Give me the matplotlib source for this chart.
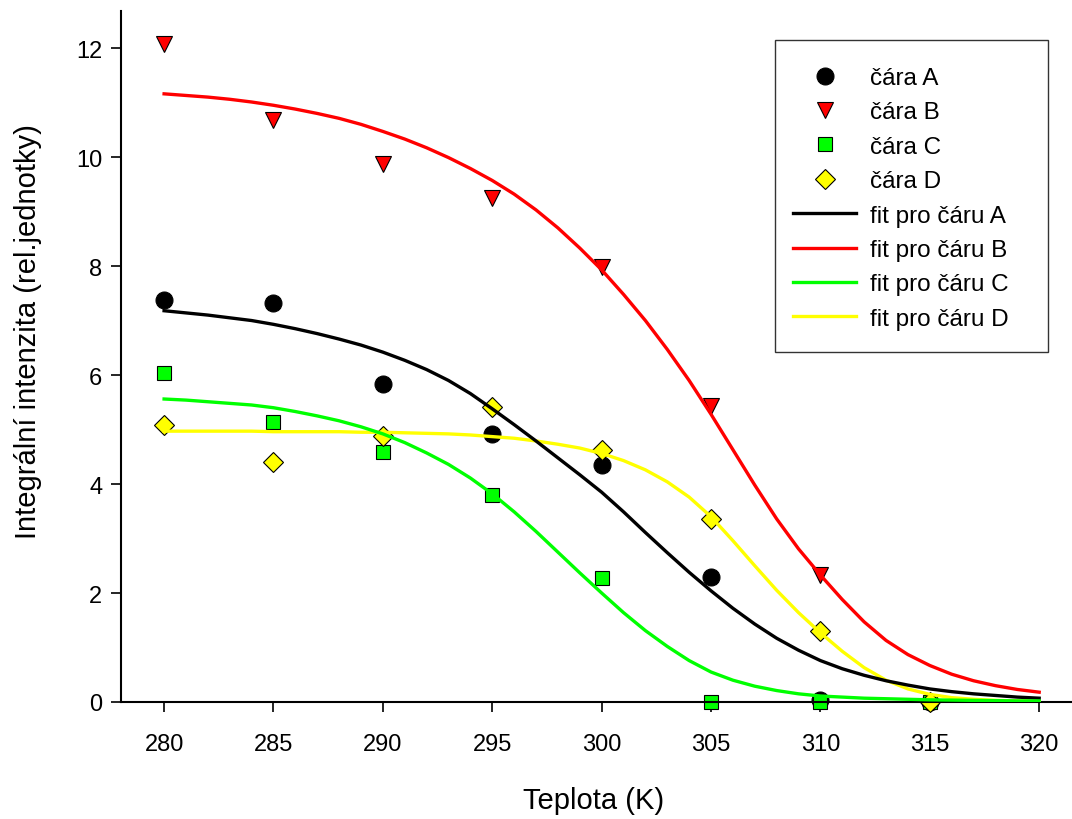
import numpy as np
import matplotlib
matplotlib.use("Agg")
import matplotlib.pyplot as plt
from matplotlib.patches import Rectangle

plt.rcParams['font.family'] = ['Liberation Sans', 'DejaVu Sans']

# ==========================================
# measured points
# ==========================================
temps = [280, 285, 290, 295, 300, 305, 310, 315]
temps_b = [280, 285, 290, 295, 300, 305, 310]

line_a = [7.38, 7.32, 5.83, 4.92, 4.34, 2.29, 0.04, 0.0]
line_b = [12.08, 10.68, 9.88, 9.24, 7.98, 5.43, 2.33]
line_c = [6.03, 5.13, 4.58, 3.79, 2.27, 0.0, 0.0, 0.0]
line_d = [5.09, 4.41, 4.89, 5.41, 4.62, 3.36, 1.30, 0.0]

# ==========================================
# fit curves, read off every 1 K
# ==========================================
fit_t = np.arange(280, 321)

fit_a = [7.18, 7.14, 7.10, 7.05, 7.00, 6.93, 6.85, 6.76, 6.66, 6.55,
         6.42, 6.27, 6.10, 5.90, 5.66, 5.38, 5.09, 4.79, 4.48, 4.17,
         3.85, 3.49, 3.11, 2.74, 2.38, 2.04, 1.72, 1.43, 1.17, 0.95,
         0.76, 0.61, 0.49, 0.39, 0.31, 0.24, 0.19, 0.15, 0.12, 0.09, 0.07]
fit_b = [11.16, 11.13, 11.10, 11.06, 11.01, 10.95, 10.88, 10.80, 10.71, 10.60,
         10.47, 10.33, 10.17, 9.99, 9.79, 9.57, 9.32, 9.03, 8.70, 8.33,
         7.93, 7.48, 7.00, 6.47, 5.90, 5.28, 4.63, 3.98, 3.36, 2.81,
         2.33, 1.88, 1.47, 1.13, 0.87, 0.67, 0.51, 0.39, 0.30, 0.23, 0.18]
fit_c = [5.56, 5.54, 5.51, 5.48, 5.45, 5.40, 5.33, 5.25, 5.16, 5.05,
         4.92, 4.76, 4.57, 4.36, 4.11, 3.82, 3.49, 3.13, 2.75, 2.37,
         2.00, 1.64, 1.31, 1.02, 0.76, 0.55, 0.40, 0.29, 0.21, 0.15,
         0.11, 0.09, 0.07, 0.06, 0.05, 0.04, 0.035, 0.03, 0.025, 0.02, 0.02]
fit_d = [4.97, 4.97, 4.97, 4.97, 4.97, 4.96, 4.96, 4.96, 4.96, 4.95,
         4.95, 4.94, 4.93, 4.92, 4.90, 4.87, 4.84, 4.79, 4.73, 4.66,
         4.56, 4.43, 4.26, 4.04, 3.76, 3.40, 2.96, 2.50, 2.05, 1.64,
         1.27, 0.93, 0.63, 0.40, 0.24, 0.14, 0.08, 0.05, 0.03, 0.02, 0.01]

x_ticks = [280, 285, 290, 295, 300, 305, 310, 315, 320]
y_ticks = [0, 2, 4, 6, 8, 10, 12]

W, H = 1072, 820
fig = plt.figure(figsize=(W / 100, H / 100), dpi=100)
ax = fig.add_axes([121 / W, (H - 703) / H, (W - 121) / W, (703 - 12) / H])

mk = dict(linestyle='none', markeredgecolor='black', markeredgewidth=0.8,
          clip_on=False, zorder=2)
ax.plot(temps, line_a, marker='o', ms=12.2, color='black', label='čára A', **mk)
ax.plot(temps_b, line_b, marker='v', ms=12.2, color='#ff0000', label='čára B', **mk)
ax.plot(temps, line_c, marker='s', ms=10, color='#00ff00', label='čára C', **mk)
ax.plot(temps, line_d, marker='D', ms=9.7, color='#ffff00', label='čára D', **mk)

lw = 2.4
ax.plot(fit_t, fit_a, color='black', lw=lw, label='fit pro čáru A', zorder=3.1)
ax.plot(fit_t, fit_b, color='#ff0000', lw=lw, label='fit pro čáru B', zorder=3.2)
ax.plot(fit_t, fit_c, color='#00ff00', lw=lw, label='fit pro čáru C', zorder=3.3)
ax.plot(fit_t, fit_d, color='#ffff00', lw=lw, label='fit pro čáru D', zorder=3.0)

ax.set_xlim(278.03, 321.5)
ax.set_ylim(0, 12.68)
ax.set_xticks(x_ticks)
ax.set_yticks(y_ticks)
ax.tick_params(axis='both', direction='out', length=7.5, width=1.2,
               labelsize=17, color='black')
ax.tick_params(axis='x', pad=14.5)
ax.tick_params(axis='y', pad=6)
for side in ['top', 'right']:
  ax.spines[side].set_visible(False)
for side in ['left', 'bottom']:
  ax.spines[side].set_linewidth(1.5)

ax.set_xlabel('Teplota (K)', fontsize=21)
ax.set_ylabel('Integrální intenzita (rel.jednotky)', fontsize=21)
ax.xaxis.set_label_coords(0.497, -0.122)
ax.yaxis.set_label_coords(-0.083, 0.537)

# legend without its own frame, box drawn separately
leg = ax.legend(loc='upper left', bbox_to_anchor=(793 / W, 1 - 68 / H),
                bbox_transform=fig.transFigure, frameon=False, fontsize=17.5,
                borderpad=0, borderaxespad=0, handlelength=2.6,
                handletextpad=0.58, labelspacing=0.51, numpoints=1)
fig.add_artist(Rectangle((775 / W, 1 - 353 / H), 273 / W, 312 / H,
                         transform=fig.transFigure, fill=False,
                         edgecolor='#333333', linewidth=1.0))

fig.savefig('out.png', dpi=100)
